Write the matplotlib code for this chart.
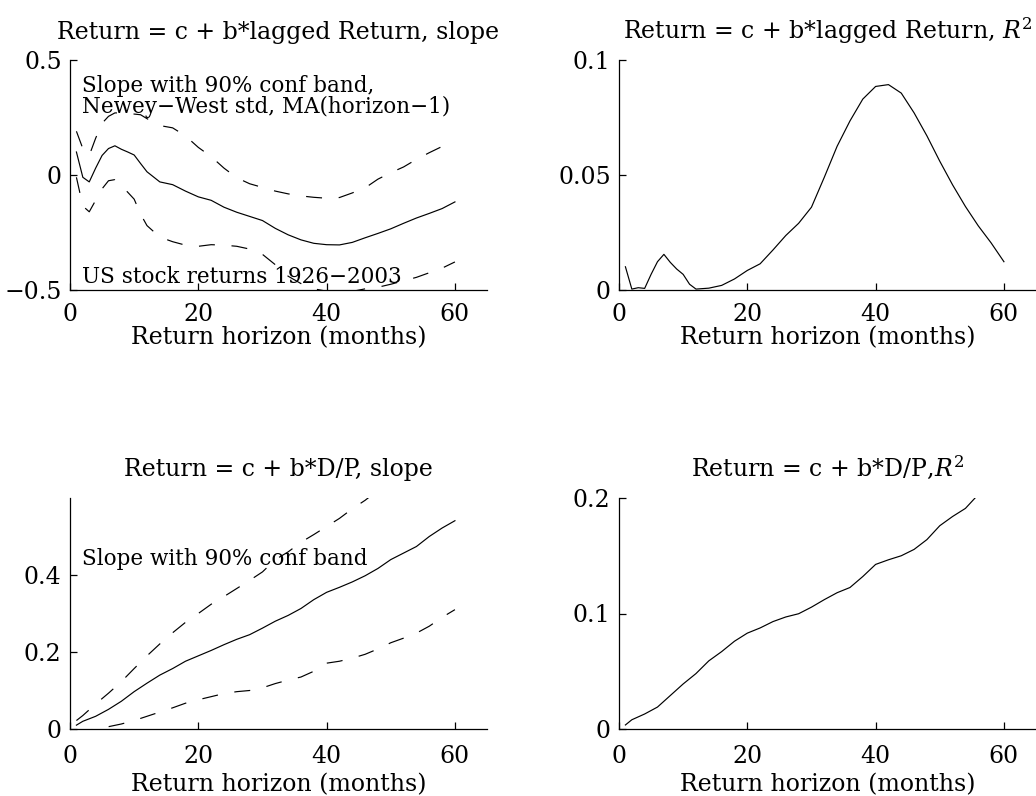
import matplotlib
matplotlib.use("Agg")
import matplotlib.pyplot as plt

plt.rcParams['font.family'] = ['DejaVu Serif']
plt.rcParams['mathtext.fontset'] = 'dejavuserif'
plt.rcParams['lines.scale_dashes'] = False

# ---------------- data ----------------
h_lag = [1, 2, 3, 4, 5, 6, 7, 8, 9, 10, 11, 12,
         14, 16, 18, 20, 22, 24, 26, 28, 30, 32, 34, 36,
         38, 40, 42, 44, 46, 48, 50, 52, 54, 56, 58, 60]

slope_lag = [0.100, -0.010, -0.030, 0.030, 0.085, 0.115, 0.127, 0.112, 0.100, 0.087, 0.050, 0.014,
             -0.030, -0.042, -0.070, -0.095, -0.110, -0.140, -0.162, -0.180, -0.198, -0.232, -0.260, -0.282,
             -0.297, -0.303, -0.304, -0.293, -0.273, -0.254, -0.234, -0.210, -0.187, -0.167, -0.146, -0.117]

upper_lag = [0.190, 0.115, 0.085, 0.160, 0.225, 0.255, 0.270, 0.270, 0.265, 0.265, 0.262, 0.245,
             0.215, 0.205, 0.170, 0.120, 0.080, 0.030, -0.012, -0.038, -0.054, -0.070, -0.082, -0.091,
             -0.097, -0.101, -0.098, -0.078, -0.056, -0.018, 0.010, 0.035, 0.068, 0.097, 0.124, 0.149]

lower_lag = [-0.010, -0.135, -0.160, -0.110, -0.060, -0.025, -0.020, -0.045, -0.075, -0.105, -0.170, -0.220,
             -0.270, -0.290, -0.305, -0.310, -0.303, -0.305, -0.310, -0.322, -0.345, -0.390, -0.440, -0.472,
             -0.495, -0.505, -0.510, -0.506, -0.495, -0.488, -0.475, -0.460, -0.445, -0.425, -0.405, -0.378]

r2_lag = [0.0101, 0.0004, 0.0010, 0.0007, 0.0068, 0.0123, 0.0155, 0.0120, 0.0091, 0.0068, 0.0025, 0.0004,
          0.0008, 0.0020, 0.0048, 0.0085, 0.0114, 0.0174, 0.0237, 0.0290, 0.0360, 0.0490, 0.0625, 0.0735,
          0.0830, 0.0885, 0.0893, 0.0856, 0.0770, 0.0670, 0.0560, 0.0457, 0.0363, 0.0279, 0.0205, 0.0123]

h_dp = [1, 2, 4, 6, 8, 10, 12, 14, 16, 18, 20, 22, 24, 26, 28, 30,
        32, 34, 36, 38, 40, 42, 44, 46, 48, 50, 52, 54, 56, 58, 60]

slope_dp = [0.010, 0.020, 0.033, 0.051, 0.072, 0.097, 0.119, 0.140, 0.157, 0.176, 0.190, 0.204, 0.219, 0.233, 0.245, 0.262,
            0.280, 0.295, 0.313, 0.336, 0.355, 0.368, 0.382, 0.398, 0.417, 0.440, 0.457, 0.474, 0.500, 0.522, 0.541]

upper_dp = [0.022, 0.035, 0.065, 0.093, 0.123, 0.157, 0.190, 0.221, 0.250, 0.277, 0.300, 0.324, 0.344, 0.365, 0.386, 0.408,
            0.440, 0.460, 0.485, 0.505, 0.526, 0.547, 0.572, 0.594, 0.620, 0.650, 0.672, 0.695, 0.730, 0.755, 0.772]

lower_dp = [-0.003, -0.005, 0.000, 0.006, 0.013, 0.022, 0.033, 0.044, 0.055, 0.067, 0.076, 0.084, 0.092, 0.097, 0.100, 0.107,
            0.118, 0.127, 0.135, 0.150, 0.171, 0.176, 0.184, 0.194, 0.208, 0.224, 0.236, 0.249, 0.267, 0.290, 0.310]

r2_dp = [0.0035, 0.0080, 0.0130, 0.0190, 0.0290, 0.0390, 0.0480, 0.0590, 0.0670, 0.0760, 0.0830, 0.0875, 0.0930, 0.0970, 0.0998, 0.1055,
         0.1120, 0.1180, 0.1225, 0.1320, 0.1425, 0.1465, 0.1500, 0.1555, 0.1640, 0.1760, 0.1840, 0.1910, 0.2030, 0.2120, 0.2220]

x_ticks = [0, 20, 40, 60]
x_ticklabels = ['0', '20', '40', '60']
yt_slope_lag = [-0.5, 0, 0.5]
yl_slope_lag = ['\u22120.5', '0', '0.5']
yt_r2_lag = [0, 0.05, 0.1]
yl_r2_lag = ['0', '0.05', '0.1']
yt_slope_dp = [0, 0.2, 0.4]
yl_slope_dp = ['0', '0.2', '0.4']
yt_r2_dp = [0, 0.1, 0.2]
yl_r2_dp = ['0', '0.1', '0.2']

titles = ['Return = c + b*lagged Return, slope',
          'Return = c + b*lagged Return, $R^2$',
          'Return = c + b*D/P, slope',
          'Return = c + b*D/P,$R^2$']
xlabel = 'Return horizon (months)'

# ---------------- figure ----------------
W, H = 1036, 796
fig = plt.figure(figsize=(W / 100, H / 100), dpi=100)

def px_axes(left, top, right, bottom):
    return fig.add_axes([left / W, 1 - bottom / H, (right - left) / W, (bottom - top) / H])

FS = 17
LW = 0.85
DASH = (0, (11.5, 12))

def style(ax, ylim, yt, yl, title, title_y, xpad, lpad):
    ax.set_xlim(0, 65)
    ax.set_ylim(*ylim)
    ax.set_xticks(x_ticks)
    ax.set_xticklabels(x_ticklabels)
    ax.set_yticks(yt)
    ax.set_yticklabels(yl)
    for s in ('top', 'right'):
        ax.spines[s].set_visible(False)
    for s in ('left', 'bottom'):
        ax.spines[s].set_linewidth(0.9)
    ax.tick_params(axis='both', direction='in', length=5, width=0.9, labelsize=FS, colors='black')
    ax.tick_params(axis='x', pad=xpad)
    ax.tick_params(axis='y', pad=6)
    ax.set_title(title, fontsize=FS, y=title_y, pad=0, va='baseline')
    ax.set_xlabel(xlabel, fontsize=FS, labelpad=lpad)

ax1 = px_axes(70, 60, 487, 290)
ax2 = px_axes(619, 60, 1036, 290)
ax3 = px_axes(70, 498, 487, 729)
ax4 = px_axes(619, 498, 1036, 729)

# panel 1
ax1.plot(h_lag, slope_lag, color='black', lw=LW)
ax1.plot(h_lag, upper_lag, color='black', lw=LW, ls=DASH)
ax1.plot(h_lag, lower_lag, color='black', lw=LW, ls=DASH)
style(ax1, (-0.5, 0.5), yt_slope_lag, yl_slope_lag, titles[0], 1.0913, 9.5, 0)
ax1.text(1.8, 0.362, 'Slope with 90% conf band,', fontsize=15.5, va='baseline')
ax1.text(1.8, 0.270, 'Newey\u2212West std, MA(horizon\u22121)', fontsize=15.5, va='baseline')
ax1.text(1.8, -0.468, 'US stock returns 1926\u22122003', fontsize=15.5, va='baseline')

# panel 2
ax2.plot(h_lag, r2_lag, color='black', lw=LW)
style(ax2, (0, 0.1), yt_r2_lag, yl_r2_lag, titles[1], 1.0913, 9.5, 0)

# panel 3
ax3.plot(h_dp, slope_dp, color='black', lw=LW)
ax3.plot(h_dp, upper_dp, color='black', lw=LW, ls=DASH)
ax3.plot(h_dp, lower_dp, color='black', lw=LW, ls=DASH)
style(ax3, (0, 0.6), yt_slope_dp, yl_slope_dp, titles[2], 1.095, 11.5, 4)
ax3.text(1.8, 0.426, 'Slope with 90% conf band', fontsize=15.5, va='baseline')

# panel 4
ax4.plot(h_dp, r2_dp, color='black', lw=LW)
style(ax4, (0, 0.2), yt_r2_dp, yl_r2_dp, titles[3], 1.095, 11.5, 4)

fig.savefig('out.png', dpi=100)
